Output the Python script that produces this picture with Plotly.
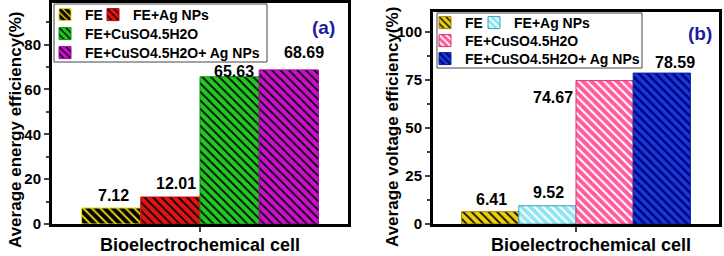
import plotly.graph_objects as go

# ---------------- data ----------------
category = ["Bioelectrochemical cell"]
series_names = ["FE", "FE+Ag NPs", "FE+CuSO4.5H2O", "FE+CuSO4.5H2O+ Ag NPs"]
energy_eff = [7.12, 12.01, 65.63, 68.69]
voltage_eff = [6.41, 9.52, 74.67, 78.59]
energy_labels = ["7.12", "12.01", "65.63", "68.69"]
voltage_labels = ["6.41", "9.52", "74.67", "78.59"]

# ---------------- styles ----------------
W, H = 724, 256
FONT = "Liberation Sans"
BARGAP = 0.2

style_a = [  # (bg, fg, line, solidity)
    ("#e8d40c", "#000000", "#e8d40c", 0.68),
    ("#e41414", "#000000", "#c80000", 0.3),
    ("#22c822", "#000000", "#109010", 0.3),
    ("#cc10cc", "#000000", "#a000a0", 0.3),
]
style_b = [
    ("#ecd010", "#000000", "#a08800", 0.3),
    ("#8ee6f2", "#ffffff", "#3aa0c0", 0.35),
    ("#ff5a9c", "#ffffff", "#e03070", 0.35),
    ("#1838d8", "#000078", "#0820a0", 0.4),
]
# label offsets in pixels (dx, dy) relative to bar centre / bar top
offs_a = [(2, 13), (6, 14), (4, 5), (15, 17)]
offs_b = [(1, 12), (1, 13), (-52, -17), (13, 11)]
# legend entry positions in pixels (text-left x, row-centre y)
leg_pos_a = [(85, 15), (133, 15), (85, 34), (85, 53)]
leg_pos_b = [(465, 23), (514, 23), (465, 41), (465, 59)]


def px_x(p):
    return p / W


def px_y(p):
    return 1 - p / H


fig = go.Figure()
leg_font = dict(family=FONT, size=14, color="black", weight="bold")
legend_layouts = {}

for panel, (vals, styles, lpos, xa, ya, base) in enumerate([
        (energy_eff, style_a, leg_pos_a, "x", "y", 1),
        (voltage_eff, style_b, leg_pos_b, "x2", "y2", 5)]):
    for i, name in enumerate(series_names):
        bg, fg, lc, sol = styles[i]
        lid = "legend" if base + i == 1 else f"legend{base + i}"
        fig.add_trace(go.Bar(
            x=category, y=[vals[i]], name=name, xaxis=xa, yaxis=ya, legend=lid,
            marker=dict(color=bg, line=dict(color=lc, width=1),
                        pattern=dict(shape="\\", fgcolor=fg, bgcolor=bg, size=6,
                                     solidity=sol, fillmode="replace")),
        ))
        legend_layouts[lid] = dict(orientation="v", x=px_x(lpos[i][0] - 40), y=px_y(lpos[i][1]),
                                   xanchor="left", yanchor="middle", bgcolor="rgba(0,0,0,0)",
                                   borderwidth=0, font=leg_font)

n = len(series_names)
bw = (1 - BARGAP) / n
annotations = []
lab_font = dict(family=FONT, size=16, color="black", weight="bold")
for i in range(n):
    xc = -(1 - BARGAP) / 2 + bw * (i + 0.5)
    annotations.append(dict(x=xc, y=energy_eff[i], xref="x", yref="y",
                            text=energy_labels[i], showarrow=False, xanchor="center",
                            yanchor="middle", xshift=offs_a[i][0], yshift=offs_a[i][1],
                            font=lab_font))
    annotations.append(dict(x=xc, y=voltage_eff[i], xref="x2", yref="y2",
                            text=voltage_labels[i], showarrow=False, xanchor="center",
                            yanchor="middle", xshift=offs_b[i][0], yshift=offs_b[i][1],
                            font=lab_font))

title_font = dict(family=FONT, size=17, color="black", weight="bold")
xtitle_font = dict(family=FONT, size=18, color="black", weight="bold")
tag_font = dict(family=FONT, size=19, color="#1c1ca0", weight="bold")
for (tx, ty, txt, ang, f) in [
        (200, 245, "Bioelectrochemical cell", 0, xtitle_font),
        (591, 245, "Bioelectrochemical cell", 0, xtitle_font),
        (15, 130, "Average energy efficiency(%)", -90, title_font),
        (392, 127, "Average voltage efficiency(%)", -90, title_font),
        (323, 27, "(a)", 0, tag_font),
        (700, 33, "(b)", 0, tag_font)]:
    annotations.append(dict(x=px_x(tx), y=px_y(ty), xref="paper", yref="paper", text=txt,
                            showarrow=False, textangle=ang, xanchor="center",
                            yanchor="middle", font=f))

tick_font = dict(family=FONT, size=15, color="black", weight="bold")
xcommon = dict(type="category", showticklabels=False, ticks="outside", ticklen=5, tickwidth=2,
               showline=True, linewidth=3, linecolor="black", mirror=True, showgrid=False,
               zeroline=False, fixedrange=True, automargin=False)
ycommon = dict(ticks="outside", ticklen=5, tickwidth=2, tickfont=tick_font,
               showline=True, linewidth=3, linecolor="black", mirror=True, showgrid=False,
               zeroline=False, automargin=False)

fig.update_layout(
    width=W, height=H, autosize=False,
    margin=dict(l=0, r=0, t=0, b=0, pad=0, autoexpand=False),
    paper_bgcolor="white", plot_bgcolor="white",
    barmode="group", bargap=BARGAP, bargroupgap=0,
    xaxis=dict(domain=[px_x(52), px_x(348)], anchor="y", **xcommon),
    yaxis=dict(domain=[px_y(224), px_y(3)], anchor="x", range=[0, 98.5],
               tickmode="linear", tick0=0, dtick=20,
               minor=dict(dtick=10, ticks="outside", ticklen=3, tickwidth=2, showgrid=False),
               **ycommon),
    xaxis2=dict(domain=[px_x(433), px_x(719)], anchor="y2", **xcommon),
    yaxis2=dict(domain=[px_y(224), px_y(12)], anchor="x2", range=[0, 110.4],
                tickmode="linear", tick0=0, dtick=25,
                minor=dict(dtick=12.5, ticks="outside", ticklen=3, tickwidth=2, showgrid=False),
                **ycommon),
    annotations=annotations,
    shapes=[
        dict(type="rect", xref="paper", yref="paper", x0=px_x(54), x1=px_x(267),
             y0=px_y(62), y1=px_y(4), line=dict(color="#444444", width=1)),
        dict(type="rect", xref="paper", yref="paper", x0=px_x(437), x1=px_x(642),
             y0=px_y(68), y1=px_y(13), line=dict(color="#444444", width=1)),
    ],
    showlegend=True,
    **legend_layouts,
)

fig.write_html("out.html", config={"displayModeBar": False},
               post_script="document.body.style.margin='0';")
